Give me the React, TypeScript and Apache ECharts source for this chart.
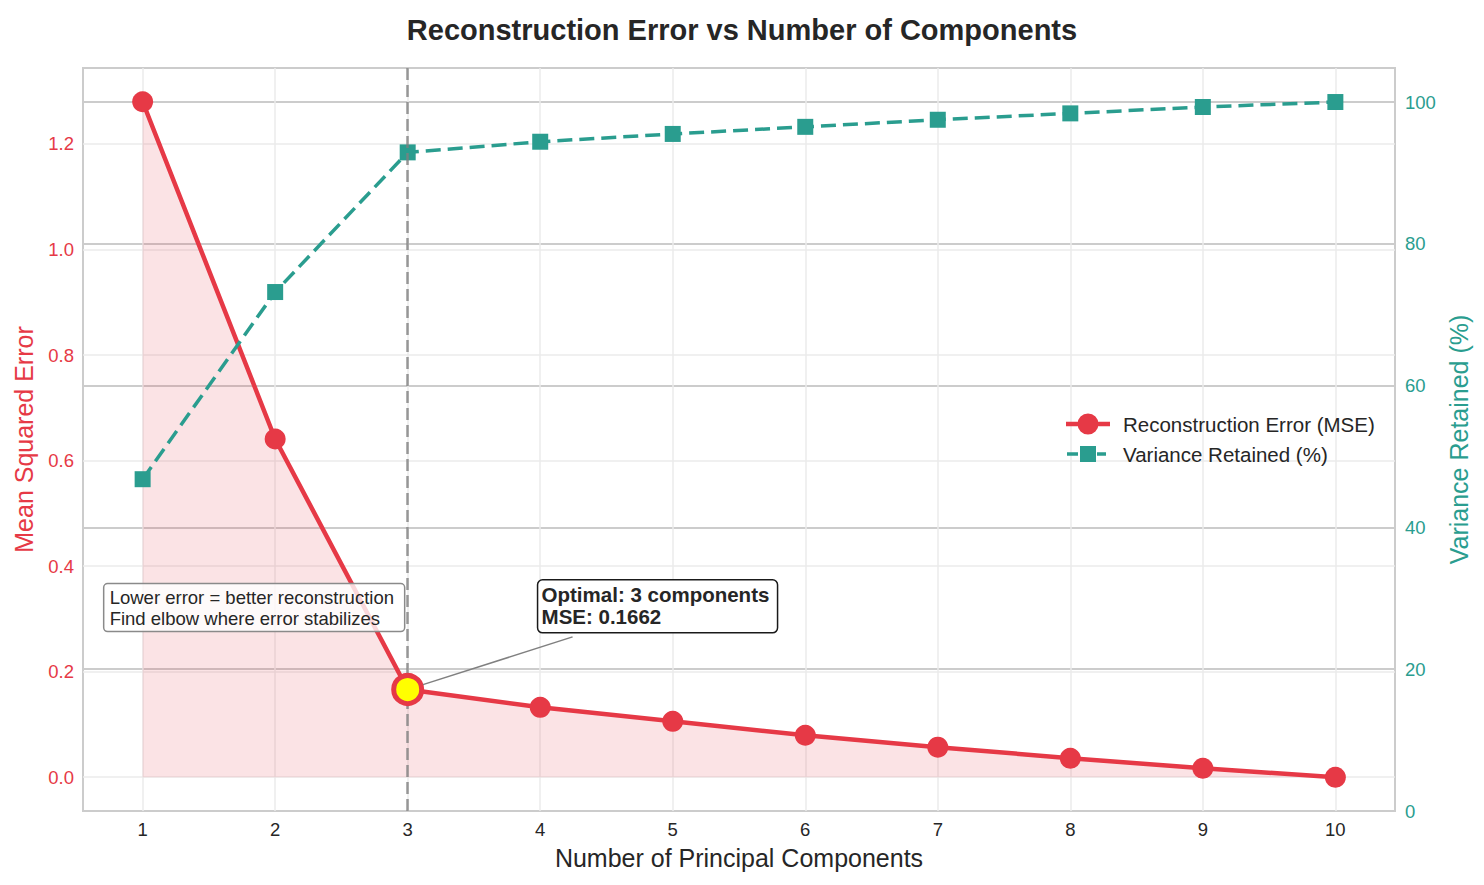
import React, { useEffect, useRef } from "react";
import * as echarts from "echarts";

const components = [1, 2, 3, 4, 5, 6, 7, 8, 9, 10];
const mseValues = [1.28, 0.641, 0.1662, 0.1325, 0.106, 0.0795, 0.057, 0.036, 0.017, 0.0];
const varianceValues = [46.8, 73.2, 92.9, 94.4, 95.5, 96.5, 97.5, 98.4, 99.3, 100];
const xTicks = [1, 2, 3, 4, 5, 6, 7, 8, 9, 10];
const mseTicks = [0, 0.2, 0.4, 0.6, 0.8, 1.0, 1.2];
const varianceTicks = [0, 20, 40, 60, 80, 100];
const optimalK = 3;
const optimalMse = 0.1662;

const RED = "#e63946";
const TEAL = "#2a9d8f";
const DARK = "#262626";
const FONT = "'Liberation Sans', Arial, sans-serif";

const CORNERS = "M0 0 L0.01 0 L0.01 0.01 Z M43.99 21.99 L44 21.99 L44 22 Z ";
const MSE_ICON =
  "path://" +
  CORNERS +
  "M0 8.8 L12 8.8 L12 13.2 L0 13.2 Z M32 8.8 L44 8.8 L44 13.2 L32 13.2 Z " +
  "M11.5 11 A10.5 10.5 0 1 1 32.5 11 A10.5 10.5 0 1 1 11.5 11 Z";
const VAR_ICON =
  "path://" +
  CORNERS +
  "M1 9.2 L12 9.2 L12 12.8 L1 12.8 Z M31 9.2 L40 9.2 L40 12.8 L31 12.8 Z " +
  "M14 3 L30 3 L30 19 L14 19 Z";

export default function App() {
  const ref = useRef<HTMLDivElement>(null);

  useEffect(() => {
    if (!ref.current) return;
    const chart = echarts.init(ref.current, undefined, { renderer: "svg" });
    const option: any = {
      animation: false,
      backgroundColor: "#ffffff",
      textStyle: { fontFamily: FONT },
      title: {
        text: "Reconstruction Error vs Number of Components",
        left: "center",
        top: 10,
        textStyle: { fontFamily: FONT, fontSize: 29, fontWeight: "bold", color: DARK },
      },
      grid: {
        left: 83,
        right: 89,
        top: 68,
        bottom: 74,
        show: true,
        borderColor: "#cccccc",
        borderWidth: 2,
        backgroundColor: "transparent",
      },
      legend: {
        orient: "vertical",
        left: 1061,
        top: 408,
        itemWidth: 44,
        itemHeight: 22,
        itemGap: 8,
        data: [
          { name: "Reconstruction Error (MSE)", icon: MSE_ICON },
          { name: "Variance Retained (%)", icon: VAR_ICON },
        ],
        textStyle: { fontFamily: FONT, fontSize: 20.5, color: DARK, padding: [0, 0, 0, 8] },
      },
      xAxis: {
        type: "value",
        min: 0.55,
        max: 10.45,
        name: "Number of Principal Components",
        nameLocation: "middle",
        nameGap: 34,
        nameTextStyle: { fontFamily: FONT, fontSize: 25, color: DARK },
        axisLine: { show: false },
        axisTick: { show: false, customValues: xTicks },
        axisLabel: {
          customValues: xTicks,
          fontFamily: FONT,
          fontSize: 18.5,
          color: DARK,
          margin: 9,
        },
        splitLine: { show: true, lineStyle: { color: "#ebebeb", width: 1.5 } },
      },
      yAxis: [
        {
          type: "value",
          min: -0.064,
          max: 1.344,
          name: "Mean Squared Error",
          nameLocation: "middle",
          nameGap: 47,
          nameTextStyle: { fontFamily: FONT, fontSize: 25, color: RED },
          axisLine: { show: false },
          axisTick: { show: false, customValues: mseTicks },
          axisLabel: {
            customValues: mseTicks,
            fontFamily: FONT,
            fontSize: 18.5,
            color: RED,
            margin: 9,
            formatter: (v: number) => v.toFixed(1),
          },
          splitLine: { show: true, lineStyle: { color: "#ebebeb", width: 1.5 } },
        },
        {
          type: "value",
          min: 0,
          max: 104.8,
          position: "right",
          name: "Variance Retained (%)",
          nameLocation: "middle",
          nameGap: 49,
          nameRotate: 90,
          nameTextStyle: { fontFamily: FONT, fontSize: 25, color: TEAL },
          axisLine: { show: false },
          axisTick: { show: false, customValues: varianceTicks },
          axisLabel: {
            customValues: varianceTicks,
            fontFamily: FONT,
            fontSize: 18.5,
            color: TEAL,
            margin: 10,
          },
          splitLine: { show: true, lineStyle: { color: "#cccccc", width: 1.8 } },
        },
      ],
      series: [
        {
          name: "Reconstruction Error (MSE)",
          type: "line",
          xAxisIndex: 0,
          yAxisIndex: 0,
          data: components.map((c, i) => [c, mseValues[i]]),
          symbol: "circle",
          symbolSize: 21,
          lineStyle: { color: RED, width: 4.5 },
          itemStyle: { color: RED },
          areaStyle: { color: "rgba(230,57,70,0.2)" },
          z: 3,
          markLine: {
            silent: true,
            symbol: ["none", "none"],
            label: { show: false },
            lineStyle: { color: "rgba(128,128,128,0.8)", type: [12, 5], width: 2.5 },
            data: [{ xAxis: optimalK }],
          },
        },
        {
          name: "Variance Retained (%)",
          type: "line",
          xAxisIndex: 0,
          yAxisIndex: 1,
          data: components.map((c, i) => [c, varianceValues[i]]),
          symbol: "rect",
          symbolSize: 16,
          lineStyle: { color: TEAL, width: 3.5, type: [15, 7] },
          itemStyle: { color: TEAL },
          z: 4,
        },
        {
          name: "Optimal",
          type: "scatter",
          xAxisIndex: 0,
          yAxisIndex: 0,
          data: [[optimalK, optimalMse]],
          symbol: "circle",
          symbolSize: 28,
          itemStyle: { color: "#ffff00", borderColor: RED, borderWidth: 5, opacity: 1 },
          z: 6,
        },
      ],
    };
    chart.setOption(option);

    const pt = chart.convertToPixel({ xAxisIndex: 0, yAxisIndex: 0 }, [optimalK, optimalMse]) as number[];
    const lowBox = chart.convertToPixel({ xAxisIndex: 0, yAxisIndex: 0 }, [0.706, 0.367]) as number[];
    const optBox = chart.convertToPixel({ xAxisIndex: 0, yAxisIndex: 0 }, [3.98, 0.374]) as number[];
    const arrowEnd = [optBox[0] + 35, optBox[1] + 57];
    const dx = arrowEnd[0] - pt[0];
    const dy = arrowEnd[1] - pt[1];
    const len = Math.sqrt(dx * dx + dy * dy);
    const start = [pt[0] + (dx / len) * 16, pt[1] + (dy / len) * 16];

    chart.setOption({
      graphic: [
        {
          type: "rect",
          z: 100,
          shape: { x: lowBox[0], y: lowBox[1], width: 301, height: 48, r: 4 },
          style: { fill: "rgba(255,255,255,0.8)", stroke: "#8a8a8a", lineWidth: 1.5 },
        },
        {
          type: "text",
          z: 101,
          x: lowBox[0] + 6,
          y: lowBox[1] + 3,
          style: {
            text: "Lower error = better reconstruction\nFind elbow where error stabilizes",
            font: `18.5px ${FONT}`,
            fill: DARK,
            lineHeight: 21,
          },
        },
        {
          type: "line",
          z: 99,
          shape: { x1: start[0], y1: start[1], x2: arrowEnd[0], y2: arrowEnd[1] },
          style: { stroke: "#808080", lineWidth: 1.5 },
        },
        {
          type: "rect",
          z: 100,
          shape: { x: optBox[0], y: optBox[1], width: 240, height: 53, r: 5 },
          style: { fill: "#ffffff", stroke: "#1a1a1a", lineWidth: 1.5 },
        },
        {
          type: "text",
          z: 101,
          x: optBox[0] + 4,
          y: optBox[1] + 4,
          style: {
            text: `Optimal: ${optimalK} components\nMSE: ${optimalMse.toFixed(4)}`,
            font: `bold 20.5px ${FONT}`,
            fill: DARK,
            lineHeight: 22,
          },
        },
      ],
    });

    return () => chart.dispose();
  }, []);

  return (
    <div
      ref={ref}
      style={{ position: "fixed", left: 0, top: 0, width: 1484, height: 885 }}
    />
  );
}
